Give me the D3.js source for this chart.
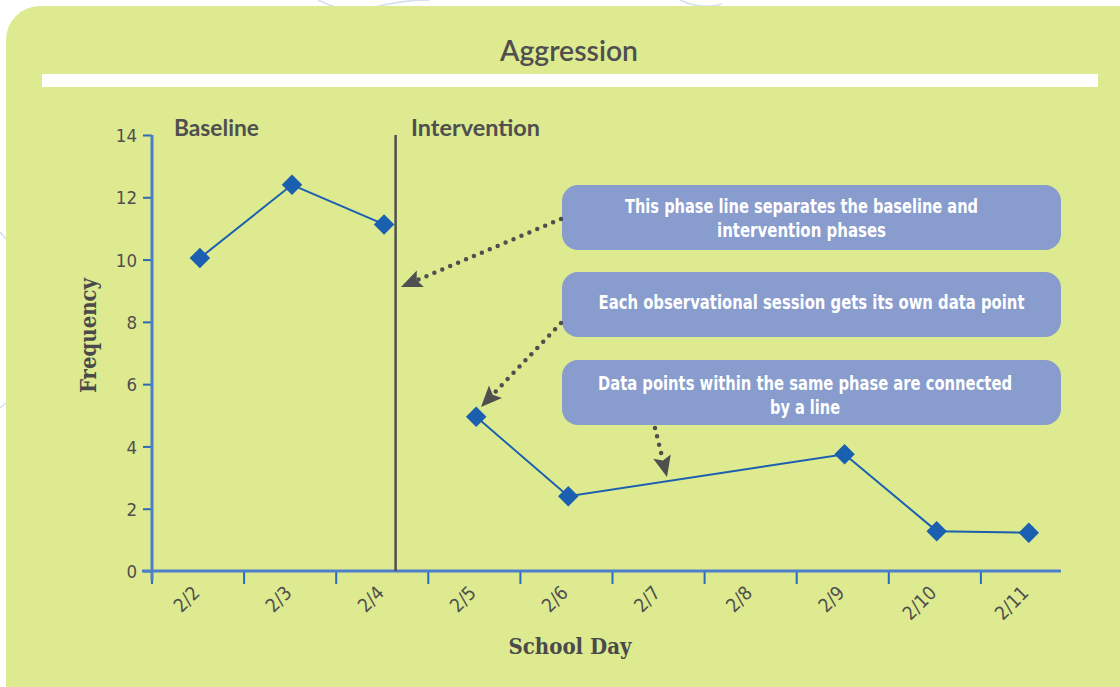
<!DOCTYPE html>
<html><head><meta charset="utf-8">
<script src="https://cdn.jsdelivr.net/npm/d3@7"></script>
<style>html,body{margin:0;padding:0;background:#fff;overflow:hidden}</style>
</head><body>
<svg id="c" width="1120" height="687"></svg>
<script>
// ---- data ----
const categories = ["2/2","2/3","2/4","2/5","2/6","2/7","2/8","2/9","2/10","2/11"];
const baselineDays = ["2/2","2/3","2/4"];
const baselineValues = [10.05, 12.4, 11.13];
const interventionDays = ["2/5","2/6","2/9","2/10","2/11"];
const interventionValues = [4.95, 2.4, 3.75, 1.28, 1.23];
const yTicks = [0,2,4,6,8,10,12,14];
const title = "Aggression";
const phaseNames = ["Baseline","Intervention"];
const yTitle = "Frequency";
const xTitle = "School Day";
const callout1 = ["This phase line separates the baseline and","intervention phases"];
const callout2 = ["Each observational session gets its own data point"];
const callout3 = ["Data points within the same phase are connected","by a line"];

// ---- drawing ----
const svg = d3.select("#c");
const grey = "#4f4f4f";

// faint decorative lines outside panel
const deco = svg.append("g").attr("fill","none").attr("stroke","#d6dff0").attr("stroke-width",1.6);
deco.append("path").attr("d","M318,0 Q350,16 372,8 Q400,0 430,0");
deco.append("path").attr("d","M680,0 Q700,10 722,4");
deco.append("path").attr("d","M0,232 L7,240");
deco.append("path").attr("d","M0,408 L7,402");

// panel
svg.append("rect").attr("x",6).attr("y",6).attr("width",1160).attr("height",720)
  .attr("rx",34).attr("fill","#ddea90");
// white bar
svg.append("rect").attr("x",42).attr("y",74).attr("width",1056).attr("height",13).attr("fill","#fff");

function fit(sel, w){
  const n = sel.node(); const cur = n.getComputedTextLength();
  const fs = parseFloat(sel.attr("font-size"));
  if (cur>0) sel.attr("font-size", (fs*w/cur).toFixed(2));
  return sel;
}

// title
fit(svg.append("text").attr("x",569).attr("y",61).attr("text-anchor","middle")
  .attr("font-family","Lato, 'Open Sans', sans-serif").attr("font-weight",600)
  .attr("font-size",23).attr("fill",grey).text(title), 138);

// scales
const x = d3.scaleBand().domain(categories).range([152, 1073]);
const bw = x.bandwidth();
const px = d => x(d) + bw*0.52;
const y = d3.scaleLinear().domain([0,14]).range([571, 135]);

const axisBlue = "#4f7fca", tickBlue = "#2c6bb7";
const tickFont = "'Liberation Sans Narrow','DejaVu Sans Condensed',sans-serif";

// y axis
const ya = svg.append("g").attr("transform","translate(152,0)")
  .call(d3.axisLeft(y).tickValues(yTicks).tickSize(9).tickPadding(6).tickSizeOuter(0));
ya.select(".domain").remove();
ya.selectAll(".tick line").attr("stroke",tickBlue).attr("stroke-width",2);
ya.selectAll(".tick text").attr("font-family",tickFont)
  .attr("font-size",18.5).attr("fill",grey).attr("dy","0.36em");

// x axis
const xa = svg.append("g").attr("transform",`translate(0,${y(0)})`)
  .call(d3.axisBottom(x).tickSize(13).tickFormat("").tickSizeOuter(0));
xa.select(".domain").remove();
xa.selectAll(".tick").attr("transform", d => `translate(${x(d)},0)`);
xa.selectAll(".tick line").attr("stroke",tickBlue).attr("stroke-width",2);

// axis lines
svg.append("line").attr("x1",152).attr("x2",152).attr("y1",y(14)).attr("y2",y(0)+10)
  .attr("stroke",axisBlue).attr("stroke-width",3);
svg.append("line").attr("x1",142).attr("x2",1061).attr("y1",y(0)).attr("y2",y(0))
  .attr("stroke",axisBlue).attr("stroke-width",3);

// x tick labels
svg.append("g").selectAll("text").data(categories).join("text")
  .attr("transform", d => `translate(${px(d)+1},594) rotate(-45)`)
  .attr("text-anchor","end")
  .attr("font-family",tickFont)
  .attr("font-size",19).attr("fill",grey).text(d => d);

// phase line
const phaseX = x("2/4") + bw*0.645;
svg.append("line").attr("x1",phaseX).attr("x2",phaseX).attr("y1",y(14)).attr("y2",y(0))
  .attr("stroke",grey).attr("stroke-width",2.5);

// phase labels
fit(svg.append("text").attr("x",174).attr("y",136).attr("font-family","Lato, 'Open Sans', sans-serif")
  .attr("font-weight",700).attr("font-size",19).attr("fill",grey).text(phaseNames[0]), 85);
fit(svg.append("text").attr("x",411).attr("y",136).attr("font-family","Lato, 'Open Sans', sans-serif")
  .attr("font-weight",700).attr("font-size",19).attr("fill",grey).text(phaseNames[1]), 129);

// axis titles
fit(svg.append("text").attr("transform","translate(96,335.5) rotate(-90)").attr("text-anchor","middle")
  .attr("font-family","'DejaVu Serif Condensed','DejaVu Serif',serif").attr("font-weight",700)
  .attr("font-size",19).attr("fill","#4a4a4a").text(yTitle), 115);
fit(svg.append("text").attr("x",570).attr("y",654).attr("text-anchor","middle")
  .attr("font-family","'DejaVu Serif Condensed','DejaVu Serif',serif").attr("font-weight",700)
  .attr("font-size",19).attr("fill","#4a4a4a").text(xTitle), 123);

// series
const lineBlue = "#1a5fb0";
const line = d3.line().x(d => px(d[0])).y(d => y(d[1]));
const series = [d3.zip(baselineDays, baselineValues), d3.zip(interventionDays, interventionValues)];
series.forEach(s => {
  svg.append("path").attr("d", line(s)).attr("fill","none").attr("stroke",lineBlue).attr("stroke-width",2);
});
const diamond = d3.symbol().type(d3.symbolSquare).size(210);
series.forEach(s => {
  svg.append("g").selectAll("path").data(s).join("path")
    .attr("d", diamond)
    .attr("transform", d => `translate(${px(d[0])},${y(d[1])}) rotate(45)`)
    .attr("fill", lineBlue);
});

// callouts
const boxFill = "#889ccd";
function callout(yTop, lines, widths, baselines){
  svg.append("rect").attr("x",562).attr("y",yTop).attr("width",499).attr("height",65)
    .attr("rx",16).attr("fill",boxFill);
  lines.forEach((t,i) => {
    svg.append("text").attr("x",widths[i][1]).attr("y",baselines[i]).attr("text-anchor","middle")
      .attr("font-family",tickFont)
      .attr("font-weight",700).attr("font-size",19).attr("fill","#fff")
      .attr("textLength",widths[i][0]).attr("lengthAdjust","spacingAndGlyphs").text(t);
  });
}
callout(185, callout1, [[353,801.5],[169,801.5]], [213,237]);
callout(272, callout2, [[426,811.5]], [309]);
callout(360, callout3, [[414,805],[70,805]], [390,414]);

// dotted arrows
function arrow(x1,y1,x2,y2){
  const dx = x2-x1, dy = y2-y1, L = Math.hypot(dx,dy);
  const ux = dx/L, uy = dy/L, head = 21, hw = 9;
  const bx = x2-ux*head, by = y2-uy*head;
  svg.append("line").attr("x1",x1).attr("y1",y1).attr("x2",bx+ux*2).attr("y2",by+uy*2)
    .attr("stroke",grey).attr("stroke-width",4.5).attr("stroke-linecap","round")
    .attr("stroke-dasharray","0 8.6");
  svg.append("path").attr("d",`M${x2},${y2} L${bx-uy*hw},${by+ux*hw} L${bx+ux*4},${by+uy*4} L${bx+uy*hw},${by-ux*hw} Z`)
    .attr("fill",grey);
}
arrow(561,219,401,287);
arrow(561,323,481,407);
arrow(655,428,667,477);
</script>
</body></html>
